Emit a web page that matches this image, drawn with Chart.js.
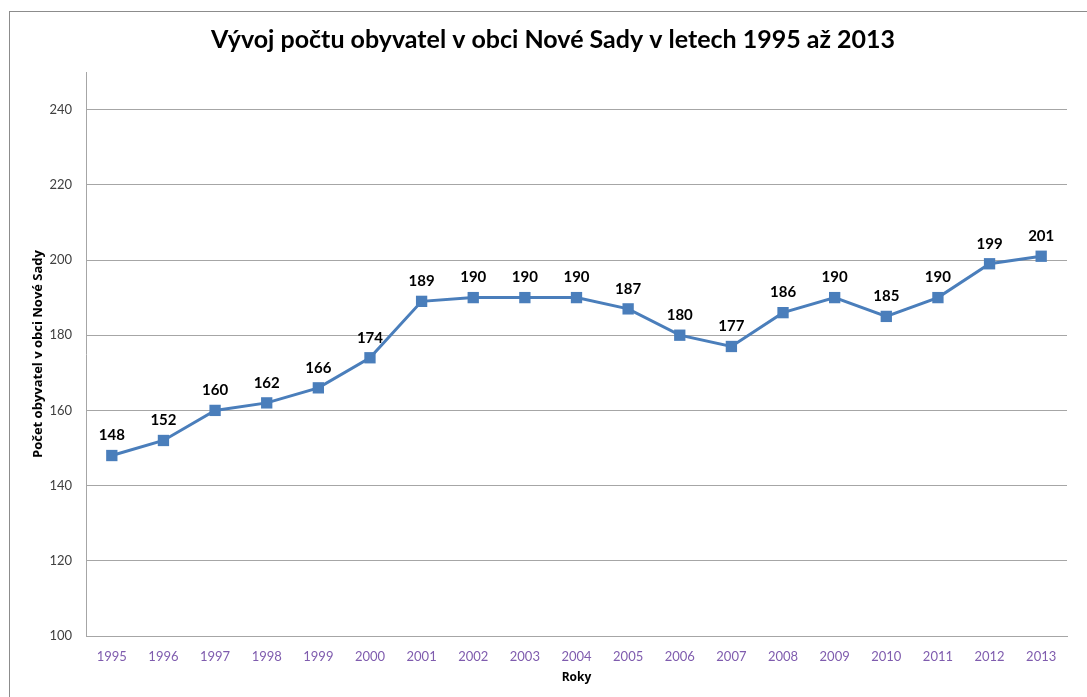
<!DOCTYPE html>
<html>
<head>
<meta charset="utf-8">
<script src="https://cdn.jsdelivr.net/npm/chart.js@4/dist/chart.umd.min.js"></script>
<style>
  html, body { margin: 0; padding: 0; background: #fff; overflow: hidden; }
  #wrap { position: relative; width: 1087px; height: 697px; }
  #frame { position: absolute; left: 9px; top: 11px; width: 1100px; height: 720px; border: 1px solid #8c8c8c; box-sizing: border-box; }
  canvas { position: absolute; left: 0; top: 0; }
</style>
</head>
<body>
<div id="wrap">
  <div id="frame"></div>
  <canvas id="graf" width="1087" height="697"></canvas>
</div>
<script>
// data z grafu
const roky = ["1995", "1996", "1997", "1998", "1999", "2000", "2001", "2002", "2003", "2004",
  "2005", "2006", "2007", "2008", "2009", "2010", "2011", "2012", "2013"];
const obyvatele = [148, 152, 160, 162, 166, 174, 189, 190, 190, 190, 187, 180, 177, 186, 190, 185, 190, 199, 201];
const osaMin = 100;
const osaMax = 250;
const osaKrok = 20;

const pismo = "Lato, 'Open Sans', sans-serif";

// popisky hodnot nad body
const popisky = {
  id: "popisky",
  afterDatasetsDraw(chart) {
    const ctx = chart.ctx;
    const meta = chart.getDatasetMeta(0);
    ctx.save();
    ctx.font = "bold 15px " + pismo;
    ctx.fillStyle = "#000";
    ctx.textAlign = "center";
    ctx.textBaseline = "middle";
    meta.data.forEach((bod, i) => {
      ctx.fillText(obyvatele[i], bod.x, bod.y - 20);
    });
    ctx.restore();
  },
};

Chart.defaults.font.family = pismo;
Chart.defaults.animation = false;

new Chart(document.getElementById("graf"), {
  type: "line",
  data: {
    labels: roky,
    datasets: [
      {
        data: obyvatele,
        borderColor: "#4A7EBB",
        backgroundColor: "#4A7EBB",
        borderWidth: 3,
        pointStyle: "rect",
        pointRadius: 8,
        pointBorderColor: "#4A7EBB",
        pointBackgroundColor: "#4A7EBB",
        pointBorderWidth: 0,
        tension: 0,
      },
    ],
  },
  options: {
    responsive: false,
    layout: { padding: { left: 19, right: 0, top: 0, bottom: 0 } },
    plugins: {
      legend: { display: false },
      tooltip: { enabled: false },
      title: {
        display: true,
        text: "Vývoj počtu obyvatel v obci Nové Sady v letech 1995 až 2013",
        color: "#000",
        font: { size: 25, weight: "bold", lineHeight: 1.2 },
        padding: { top: 25, bottom: 17 },
      },
    },
    scales: {
      x: {
        offset: true,
        grid: { display: false },
        border: { display: true, color: "#a6a6a6", width: 1 },
        ticks: { color: "#7F5CAE", font: { size: 13 }, padding: 5, maxRotation: 0 },
        title: { display: true, text: "Roky", color: "#000", font: { family: "'Open Sans', sans-serif", size: 12, weight: "bold" }, padding: { top: 2, bottom: 12 } },
        afterFit: (s) => { s.height = 61; },
      },
      y: {
        min: osaMin,
        max: osaMax,
        ticks: { stepSize: osaKrok, includeBounds: false, color: "#404040", font: { size: 13 }, padding: 14 },
        grid: { color: "#a6a6a6", lineWidth: 1, drawTicks: false },
        border: { display: true, color: "#a6a6a6", width: 1 },
        title: { display: true, text: "Počet obyvatel v obci Nové Sady", color: "#000", font: { family: "'Open Sans', sans-serif", size: 13, weight: "bold" }, padding: { top: 11, bottom: 0 } },
        afterFit: (s) => { s.width = 67; },
      },
      y2: {
        position: "right",
        display: true,
        grid: { display: false },
        border: { display: false },
        ticks: { display: false },
        afterFit: (s) => { s.width = 20; },
      },
    },
  },
  plugins: [popisky],
});
</script>
</body>
</html>
